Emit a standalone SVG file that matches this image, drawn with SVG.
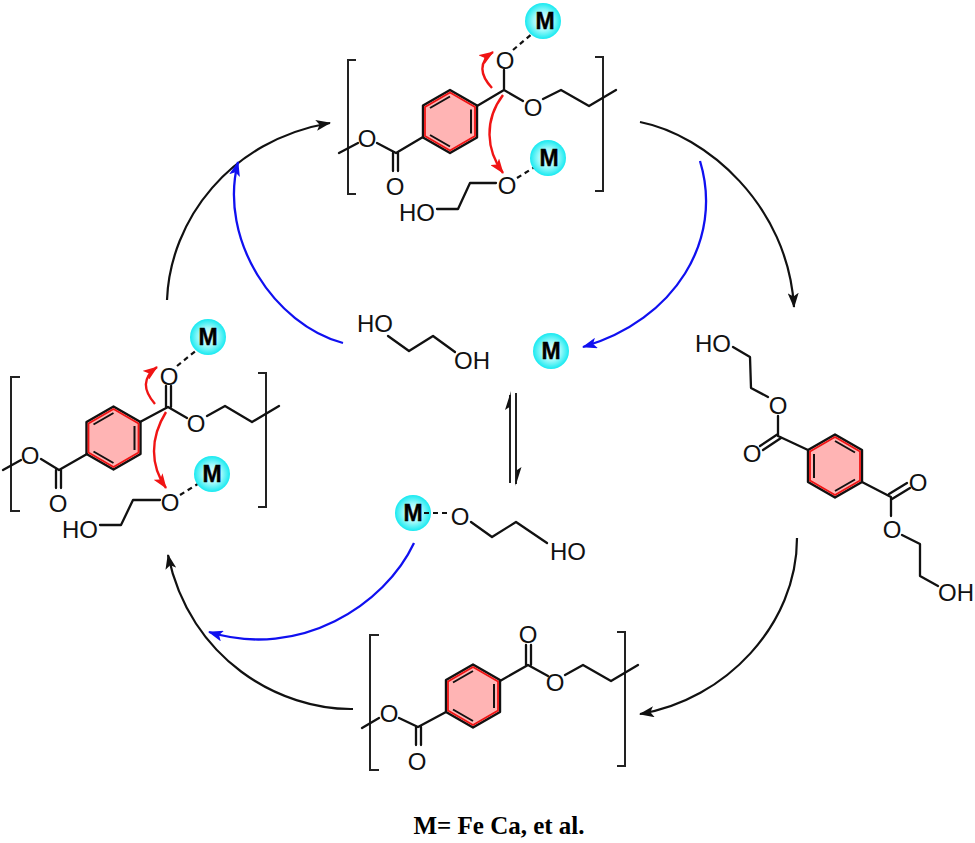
<svg xmlns="http://www.w3.org/2000/svg" xmlns:xlink="http://www.w3.org/1999/xlink" width="975" height="843" viewBox="0 0 975 843">
<style>
text{font-family:"Liberation Sans",Arial,sans-serif;font-size:24px;fill:#111;text-anchor:middle}
.m{font-weight:bold;font-size:23px;fill:#000;stroke:#000;stroke-width:.4}
.cap{font-family:"Liberation Serif","Times New Roman",serif;font-weight:bold;font-size:25px;fill:#000}
.b{fill:none;stroke:#111;stroke-width:2.3;stroke-linecap:round;stroke-linejoin:round}
.d{fill:none;stroke:#111;stroke-width:2.2;stroke-dasharray:5 4}
.k{fill:none;stroke:#111;stroke-width:2.2}
.u{fill:none;stroke:#1010f0;stroke-width:2.3}
.r{fill:none;stroke:#f01414;stroke-width:2.4}
.br{fill:none;stroke:#222;stroke-width:2}
</style>
<defs>
<radialGradient id="sph" cx="50%" cy="50%" r="52%"><stop offset="0" stop-color="#f4ffff"/><stop offset=".5" stop-color="#a0fafa"/><stop offset="1" stop-color="#0ce8f0"/></radialGradient>
<marker id="ak" viewBox="0 0 15 11" refX="14" refY="5.500" markerWidth="15" markerHeight="11" markerUnits="userSpaceOnUse" orient="auto"><path d="M0 0L15 5.500L0 11L3.500 5.500Z" fill="#111"/></marker>
<marker id="au" viewBox="0 0 15 11" refX="14" refY="5.500" markerWidth="15" markerHeight="11" markerUnits="userSpaceOnUse" orient="auto"><path d="M0 0L15 5.500L0 11L3.500 5.500Z" fill="#1010f0"/></marker>
<marker id="ar" viewBox="0 0 15 11" refX="14" refY="5.500" markerWidth="15" markerHeight="11" markerUnits="userSpaceOnUse" orient="auto"><path d="M0 0L15 5.500L0 11L3.500 5.500Z" fill="#f01414"/></marker>
<g id="ringA">
<path d="M0-31.500L27-16V16L0 31.500L-27 16V-16Z" fill="#ffb4b4" stroke="#111" stroke-width="2.400" stroke-linejoin="round"/>
<path d="M0-29L25-14.500V14.500L0 29L-25 14.500V-14.500Z" fill="none" stroke="#f01414" stroke-width="1.800"/>
<path d="M-20-13.500L0-25M21-12V12M-20 13.500L0 25" fill="none" stroke="#111" stroke-width="2"/>
</g>
<g id="ringB">
<path d="M0-31.500L27-16V16L0 31.500L-27 16V-16Z" fill="#ffb4b4" stroke="#111" stroke-width="2.400" stroke-linejoin="round"/>
<path d="M0-29L25-14.500V14.500L0 29L-25 14.500V-14.500Z" fill="none" stroke="#f01414" stroke-width="1.800"/>
<path d="M20-13.500L0-25M-21-12V12M20 13.500L0 25" fill="none" stroke="#111" stroke-width="2"/>
</g>
</defs>
<rect width="975" height="843" fill="#fff"/>
<g id="connectors">
<path class="k" marker-end="url(#ak)" d="M640 122C706 135 788 205 794 307"/>
<path class="u" marker-end="url(#au)" d="M700 161C724 240 675 320 583 347"/>
<path class="k" marker-end="url(#ak)" d="M797 538C797 625 725 700 640 714"/>
<path class="k" marker-end="url(#ak)" d="M353 709C280 710 190 660 168 555"/>
<path class="u" marker-end="url(#au)" d="M414 543C385 605 300 660 209 632"/>
<path class="k" marker-end="url(#ak)" d="M167 300C170 220 230 140 330 123"/>
<path class="u" marker-end="url(#au)" d="M343 343C275 325 218 240 238 162"/>
<path id="eq-up-line" class="br" d="M510 483V395"/>
<path id="eq-down-line" class="br" d="M516 393V484"/>
<path id="eq-up-head" d="M511 391L505 410L509.500 407V410Z" fill="#111"/>
<path id="eq-down-head" d="M515.500 486L521.500 467L517 470V467Z" fill="#111"/>
</g>
<g id="top-polymer">
<path class="br" d="M356 60H348V194H356M595 57H603V191H595"/>
<use xlink:href="#ringA" href="#ringA" x="450" y="121.500"/>
<path class="b" d="M339 153L358 143M377 143L396 153L423 137M393 153V171M398 153V171M477 106L504 90V70M504 90L523 101M543 99L561 90L589 106L616 90"/>
<text x="367" y="147">O</text><text x="395" y="195">O</text><text x="505" y="69">O</text><text x="533" y="116">O</text>
<path class="d" d="M513 50L533 33"/>
<path class="d" d="M517 178L538 165"/>
<path class="b" d="M496 183H470L458 209H437"/>
<text x="507" y="194">O</text><text x="417" y="221">HO</text>
<path class="r" marker-end="url(#ar)" d="M492 88C480 75 478 62 493 52"/>
<path class="r" marker-end="url(#ar)" d="M503 95C484 120 486 150 503 173"/>
</g>
<g id="top-M1"><circle cx="543" cy="21" r="18" fill="url(#sph)"/><text class="m" x="545" y="29">M</text></g>
<g id="top-M2"><circle cx="548" cy="158" r="18" fill="url(#sph)"/><text class="m" x="549" y="166">M</text></g>
<g id="left-polymer">
<path class="br" d="M20 377H11V511H20M258 373H266V507H258"/>
<use xlink:href="#ringA" href="#ringA" x="113.500" y="438"/>
<path class="b" d="M3 470L21 460M41 459L59 470L87 454M56 470V488M61 470V488M140 422L168 407L187 418M166 407V386M171 407V386M207 416L225 406L252 422L279 406"/>
<text x="30" y="464">O</text><text x="58" y="512">O</text><text x="169" y="385">O</text><text x="196" y="432">O</text>
<path class="d" d="M177 366L198 349"/>
<path class="d" d="M180 495L201 482"/>
<path class="b" d="M160 500H133L121 525H100"/>
<text x="170" y="511">O</text><text x="80" y="538">HO</text>
<path class="r" marker-end="url(#ar)" d="M155 404C143 390 142 378 157 367"/>
<path class="r" marker-end="url(#ar)" d="M166 412C150 438 150 465 166 488"/>
</g>
<g id="left-M1"><circle cx="208" cy="337" r="18" fill="url(#sph)"/><text class="m" x="208" y="345">M</text></g>
<g id="left-M2"><circle cx="212" cy="474" r="18" fill="url(#sph)"/><text class="m" x="212" y="482">M</text></g>
<g id="glycol">
<path class="b" d="M388 336L409 351L433 336L455 352"/>
<text x="375" y="332">HO</text><text x="472" y="369">OH</text>
</g>
<g id="free-M"><circle cx="551" cy="351" r="18" fill="url(#sph)"/><text class="m" x="551" y="359">M</text></g>
<g id="M-glycol">
<circle cx="413" cy="513" r="18" fill="url(#sph)"/><text class="m" x="413" y="521">M</text>
<path class="d" d="M424 513H451"/>
<text x="460" y="525">O</text>
<path class="b" d="M471 522L492 537L516 522L547 543"/>
<text x="568" y="560">HO</text>
</g>
<g id="BHET">
<use xlink:href="#ringB" href="#ringB" x="835" y="466"/>
<path class="b" d="M808 450L778 436L778 416M778 434L760 446M781 438L763 450M768 397L751 388L750 357L733 347M862 482L891 497L891 516M889 494L907 483M892 499L910 488M902 535L920 544L920 576L938 586"/>
<text x="778" y="414">O</text><text x="752" y="462">O</text><text x="713" y="352">HO</text>
<text x="918" y="491">O</text><text x="892" y="538">O</text><text x="956" y="601">OH</text>
</g>
<g id="bottom-polymer">
<path class="br" d="M379 635H370V770H379M617 632H625V766H617"/>
<use xlink:href="#ringA" href="#ringA" x="473" y="696"/>
<path class="b" d="M362 728L379 718M399 718L418 727L446 712M416 727V745M421 727V745M500 681L528 665L548 676M526 665V645M531 665V645M565 675L583 665L611 681L638 665"/>
<text x="389" y="722">O</text><text x="417" y="770">O</text><text x="528" y="643">O</text><text x="555" y="691">O</text>
</g>
<g id="caption"><text class="cap" x="499" y="834">M= Fe Ca, et al.</text></g>
</svg>
